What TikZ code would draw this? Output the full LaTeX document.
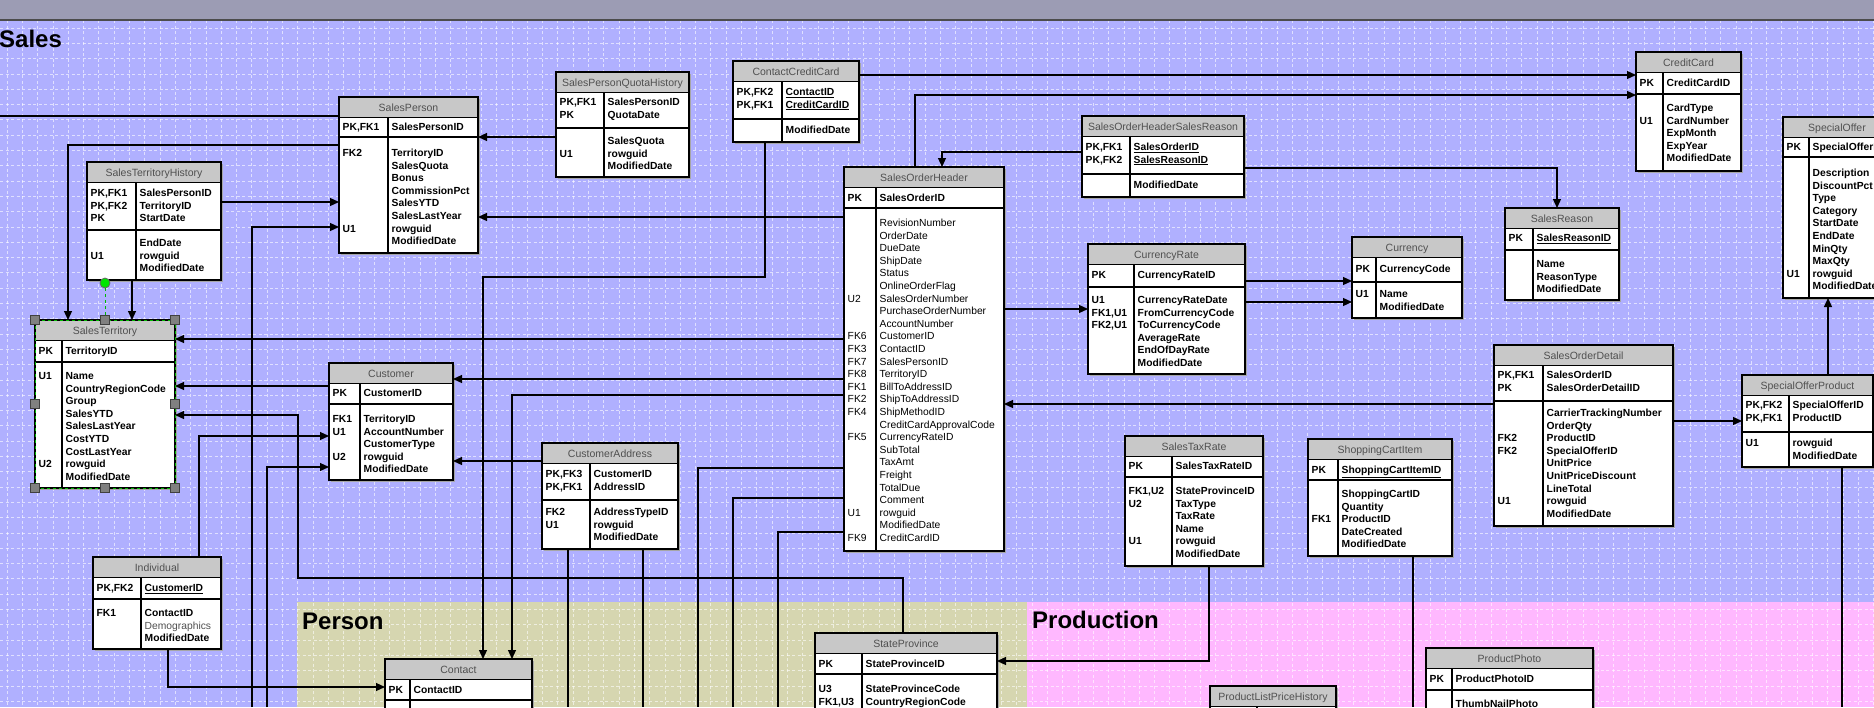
\documentclass[tikz,border=0pt]{standalone}
\usepackage{fontspec}
\setmainfont{Liberation Sans}
\usepackage{tikz}
\usetikzlibrary{arrows.meta,calc}
\definecolor{salesblue}{RGB}{176,176,255}
\definecolor{personkhaki}{RGB}{214,214,176}
\definecolor{prodpink}{RGB}{255,184,255}
\definecolor{topbar}{RGB}{156,156,180}
\definecolor{hdrgray}{RGB}{200,200,200}
\definecolor{titlegray}{RGB}{80,80,80}
\definecolor{selgreen}{RGB}{0,230,0}

% table box: name, title, left, top, right, bottom, key column edge, end of key rows
\newcommand{\dbtable}[8]{%
  \fill[black!35] (#3+2,#4+2) rectangle (#5+2,#6+2);
  \fill[white] (#3,#4) rectangle (#5,#6);
  \fill[hdrgray] (#3,#4) rectangle (#5,#4+20.5);
  \draw[tline] (#3,#4+20.5) -- (#5,#4+20.5) (#3,#8) -- (#5,#8) (#7,#4+20.5) -- (#7,#6);
  \node[tbl,minimum width={(#5-#3)*1pt},minimum height={(#6-#4)*1pt}] (#1) at ({(#3+#5)/2},{(#4+#6)/2}) {};
  \node[ttitle] at ({(#3+#5)/2},#4+14) {#2};
}
% rows: key/field pairs, first row centred at #4
\newcommand{\trows}[5][fld]{%
  \foreach \kname/\fname [count=\i] in {#5} {
    \node[#1] at (#2+3.5,{#4+3.5+12.6*(\i-1)}) {\kname};
    \node[#1] at (#3+3.5,{#4+3.5+12.6*(\i-1)}) {\fname};
  }
}

\begin{document}
\begin{tikzpicture}[x=1pt,y=-1pt,
  tbl/.style={draw,line width=1.3pt,inner sep=0pt,outer sep=0pt},
  tline/.style={line width=1.3pt},
  ttitle/.style={anchor=base,inner sep=0pt,text=titlegray,font=\fontsize{10.5}{12}\selectfont},
  fld/.style={anchor=base west,inner sep=0pt,font=\fontsize{10.3}{12.6}\selectfont\bfseries},
  reg/.style={anchor=base west,inner sep=0pt,font=\fontsize{10.3}{12.6}\selectfont},
  rel/.style={line width=1.2pt},
  fk/.style={rel,-{Triangle[length=9pt,width=8pt]}},
  gridline/.style={white,opacity=0.6,line width=0.7pt,dash pattern=on 3pt off 2.5pt},
  grouplabel/.style={anchor=base west,inner sep=0pt,font=\fontsize{24}{28}\selectfont\bfseries},
  handle/.style={draw=black!75,fill=black!50,line width=0.8pt,minimum size=9pt,inner sep=0pt},
  rothandle/.style={circle,draw=black!60,fill=selgreen,line width=0.8pt,minimum size=10pt,inner sep=0pt}]

\useasboundingbox (0,0) rectangle (1874,707);
\clip (0,0) rectangle (1874,707);

% areas
\fill[topbar] (0,0) rectangle (1874,20);
\fill[salesblue] (0,20) rectangle (1874,707);
\fill[personkhaki] (297,602) rectangle (1027,707);
\fill[prodpink] (1027,602) rectangle (1874,707);
\foreach \gx in {7,22.3,...,1874} \draw[gridline] (\gx,20) -- (\gx,707);
\foreach \gy in {28,43.3,...,707} \draw[gridline] (0,\gy) -- (1874,\gy);
\draw[line width=1.5pt,black!70] (0,20) -- (1874,20);

\node[grouplabel] (saleslbl) at (-1,47) {Sales};
\node[grouplabel] (personlbl) at (302,629) {Person};
\node[grouplabel] (prodlbl) at (1032,628) {Production};

% free ends
\coordinate (empl) at (0,116);
\coordinate (hrline) at (252,707);
\coordinate (storeline) at (267,707);
\coordinate (addrA) at (698,707);
\coordinate (addrB) at (733,707);
\coordinate (addrC) at (778,707);
\coordinate (caaddr) at (568,707);
\coordinate (catype) at (643,707);
\coordinate (sciprod) at (1413,707);
\coordinate (sopprod) at (1842,707);

% tables
\dbtable{sp}{SalesPerson}{339}{97}{478}{253}{388}{137}
\trows{339}{388}{127}{{PK,FK1}/SalesPersonID}
\trows{339}{388}{153}{FK2/TerritoryID,/SalesQuota,/Bonus,/CommissionPct,/SalesYTD,/SalesLastYear,U1/rowguid,/ModifiedDate}

\dbtable{sth}{SalesTerritoryHistory}{87}{162}{221}{280}{136}{230}
\trows{87}{136}{193}{{PK,FK1}/SalesPersonID,{PK,FK2}/TerritoryID,PK/StartDate}
\trows{87}{136}{243}{/EndDate,U1/rowguid,/ModifiedDate}

\dbtable{st}{SalesTerritory}{35}{320}{175}{488}{62}{362}
\trows{35}{62}{351}{PK/TerritoryID}
\trows{35}{62}{376}{U1/Name,/CountryRegionCode,/Group,/SalesYTD,/SalesLastYear,/CostYTD,/CostLastYear,U2/rowguid,/ModifiedDate}

\dbtable{spqh}{SalesPersonQuotaHistory}{556}{72}{689}{177}{604}{128}
\trows{556}{604}{102}{{PK,FK1}/SalesPersonID,PK/QuotaDate}
\trows{556}{604}{141}{/SalesQuota,U1/rowguid,/ModifiedDate}

\dbtable{ccc}{ContactCreditCard}{733}{61}{859}{142}{782}{119}
\trows{733}{782}{92}{{PK,FK2}/\underline{ContactID},{PK,FK1}/\underline{CreditCardID}}
\trows{733}{782}{130}{/ModifiedDate}

\dbtable{soh}{SalesOrderHeader}{844}{167}{1004}{551}{876}{208}
\trows{844}{876}{198}{PK/SalesOrderID}
\trows[reg]{844}{876}{223}{/RevisionNumber,/OrderDate,/DueDate,/ShipDate,/Status,/OnlineOrderFlag,U2/SalesOrderNumber,/PurchaseOrderNumber,/AccountNumber,FK6/CustomerID,FK3/ContactID,FK7/SalesPersonID,FK8/TerritoryID,FK1/BillToAddressID,FK2/ShipToAddressID,FK4/ShipMethodID,/CreditCardApprovalCode,FK5/CurrencyRateID,/SubTotal,/TaxAmt,/Freight,/TotalDue,/Comment,U1/rowguid,/ModifiedDate,FK9/CreditCardID}

\dbtable{sohsr}{SalesOrderHeaderSalesReason}{1082}{116}{1244}{197}{1130}{174}
\trows{1082}{1130}{147}{{PK,FK1}/\underline{SalesOrderID},{PK,FK2}/\underline{SalesReasonID}}
\trows{1082}{1130}{185}{/ModifiedDate}

\dbtable{cc}{CreditCard}{1636}{52}{1741}{171}{1663}{94}
\trows{1636}{1663}{83}{PK/CreditCardID}
\trows{1636}{1663}{108}{/CardType,U1/CardNumber,/ExpMonth,/ExpYear,/ModifiedDate}

\dbtable{so}{SpecialOffer}{1783}{117}{1891}{298}{1809}{157}
\trows{1783}{1809}{147}{PK/SpecialOfferID}
\trows{1783}{1809}{173}{/Description,/DiscountPct,/Type,/Category,/StartDate,/EndDate,/MinQty,/MaxQty,U1/rowguid,/ModifiedDate}

\dbtable{sr}{SalesReason}{1505}{208}{1619}{300}{1533}{250}
\trows{1505}{1533}{238}{PK/\underline{SalesReasonID}}
\trows{1505}{1533}{264}{/Name,/ReasonType,/ModifiedDate}

\dbtable{cur}{Currency}{1352}{237}{1462}{318}{1376}{282}
\trows{1352}{1376}{269}{PK/CurrencyCode}
\trows{1352}{1376}{294}{U1/Name,/ModifiedDate}

\dbtable{cr}{CurrencyRate}{1088}{244}{1245}{374}{1134}{287}
\trows{1088}{1134}{275}{PK/CurrencyRateID}
\trows{1088}{1134}{300}{U1/CurrencyRateDate,{FK1,U1}/FromCurrencyCode,{FK2,U1}/ToCurrencyCode,/AverageRate,/EndOfDayRate,/ModifiedDate}

\dbtable{sod}{SalesOrderDetail}{1494}{345}{1673}{526}{1543}{401}
\trows{1494}{1543}{375}{{PK,FK1}/SalesOrderID,PK/SalesOrderDetailID}
\trows{1494}{1543}{413}{/CarrierTrackingNumber,/OrderQty,FK2/ProductID,FK2/SpecialOfferID,/UnitPrice,/UnitPriceDiscount,/LineTotal,U1/rowguid,/ModifiedDate}

\dbtable{sop}{SpecialOfferProduct}{1742}{375}{1873}{467}{1789}{432}
\trows{1742}{1789}{405}{{PK,FK2}/SpecialOfferID,{PK,FK1}/ProductID}
\trows{1742}{1789}{443}{U1/rowguid,/ModifiedDate}

\dbtable{cus}{Customer}{329}{363}{453}{480}{360}{404}
\trows{329}{360}{393}{PK/CustomerID}
\trows{329}{360}{419}{FK1/TerritoryID,U1/AccountNumber,/CustomerType,U2/rowguid,/ModifiedDate}

\dbtable{ca}{CustomerAddress}{542}{443}{678}{549}{590}{500}
\trows{542}{590}{474}{{PK,FK3}/CustomerID,{PK,FK1}/AddressID}
\trows{542}{590}{512}{FK2/AddressTypeID,U1/rowguid,/ModifiedDate}

\dbtable{ind}{Individual}{93}{557}{221}{649}{141}{599}
\trows{93}{141}{588}{{PK,FK2}/\underline{CustomerID}}
\trows{93}{141}{613}{FK1/ContactID,/{\mdseries\color{titlegray}Demographics},/ModifiedDate}

\dbtable{str}{SalesTaxRate}{1125}{436}{1263}{566}{1172}{477}
\trows{1125}{1172}{466}{PK/SalesTaxRateID}
\trows{1125}{1172}{491}{{FK1,U2}/StateProvinceID,U2/TaxType,/TaxRate,/Name,U1/rowguid,/ModifiedDate}

\dbtable{sci}{ShoppingCartItem}{1308}{439}{1452}{556}{1338}{480}
\trows{1308}{1338}{470}{PK/\underline{ShoppingCartItemID}}
\trows{1308}{1338}{494}{/ShoppingCartID,/Quantity,FK1/ProductID,/DateCreated,/ModifiedDate}

\dbtable{stp}{StateProvince}{815}{633}{997}{760}{862}{674}
\trows{815}{862}{664}{PK/StateProvinceID}
\trows{815}{862}{689}{U3/StateProvinceCode,{FK1,U3}/CountryRegionCode}

\dbtable{con}{Contact}{385}{659}{532}{760}{410}{700}
\trows{385}{410}{690}{PK/ContactID}

\dbtable{pph}{ProductPhoto}{1426}{648}{1593}{760}{1452}{690}
\trows{1426}{1452}{679}{PK/ProductPhotoID}
\trows{1426}{1452}{704}{/ThumbNailPhoto}

\dbtable{plph}{ProductListPriceHistory}{1210}{686}{1336}{760}{1257}{730}

% relationships
\draw[rel] (empl) -- (sp.west |- empl);
\draw[fk] (sp.west |- 0,145) -| (st.north -| 68,0);
\draw[fk] (sth.east |- 0,202) -- (sp.west |- 0,202);
\draw[fk] (sth.south -| 132,0) -- (st.north -| 132,0);
\draw[fk] (hrline) |- (sp.west |- 0,227);
\draw[fk] (soh.west |- 0,217) -- (sp.east |- 0,217);
\draw[fk] (spqh.west |- 0,137) -- (sp.east |- 0,137);
\draw[fk] (ccc.east |- 0,75) -- (cc.west |- 0,75);
\draw[fk] (soh.north -| 915,0) |- (cc.west |- 0,95);
\draw[fk] (ccc.south -| 765,0) |- (483,277) -- (con.north -| 483,0);
\draw[fk] (sohsr.west |- 0,152) -| (soh.north -| 942,0);
\draw[fk] (sohsr.east |- 0,168) -| (sr.north -| 1557,0);
\draw[fk] (soh.west |- 0,339) -- (st.east |- 0,339);
\draw[fk] (soh.west |- 0,379) -- (cus.east |- 0,379);
\draw[fk] (soh.west |- 0,395) -| (con.north -| 512,0);
\draw[fk] (cus.west |- 0,386) -- (st.east |- 0,386);
\draw[fk] (ind.north -| 199,0) |- (cus.west |- 0,436);
\draw[fk] (storeline) |- (cus.west |- 0,467);
\draw[fk] (ca.west |- 0,461) -- (cus.east |- 0,461);
\draw[fk] (stp.north -| 903,0) |- (298,578) |- (st.east |- 0,415);
\draw[rel] (soh.west |- 0,468) -| (addrA);
\draw[rel] (soh.west |- 0,498) -| (addrB);
\draw[rel] (soh.west |- 0,532) -| (addrC);
\draw[rel] (ca.south -| caaddr) -- (caaddr);
\draw[rel] (ca.south -| catype) -- (catype);
\draw[fk] (ind.south -| 168,0) |- (con.west |- 0,687);
\draw[fk] (soh.east |- 0,309) -- (cr.west |- 0,309);
\draw[fk] (cr.east |- 0,281) -- (cur.west |- 0,281);
\draw[fk] (cr.east |- 0,302) -- (cur.west |- 0,302);
\draw[fk] (sod.west |- 0,404) -- (soh.east |- 0,404);
\draw[fk] (sod.east |- 0,421) -- (sop.west |- 0,421);
\draw[fk] (sop.north -| 1828,0) -- (so.south -| 1828,0);
\draw[rel] (sop.south -| sopprod) -- (sopprod);
\draw[rel] (sci.south -| sciprod) -- (sciprod);
\draw[fk] (str.south -| 1209,0) |- (stp.east |- 0,661);

% selection on SalesTerritory
\draw[selgreen!80!black,line width=1pt,dash pattern=on 3pt off 3pt] (st.north west) rectangle (st.south east);
\node[rothandle] (rot) at (105,283) {};
\draw[selgreen!80!black,line width=1pt,dash pattern=on 3pt off 3pt] (rot) -- (st.north);
\foreach \a in {north west,north,north east,west,east,south west,south,south east}
  \node[handle] at (st.\a) {};

\end{tikzpicture}
\end{document}
